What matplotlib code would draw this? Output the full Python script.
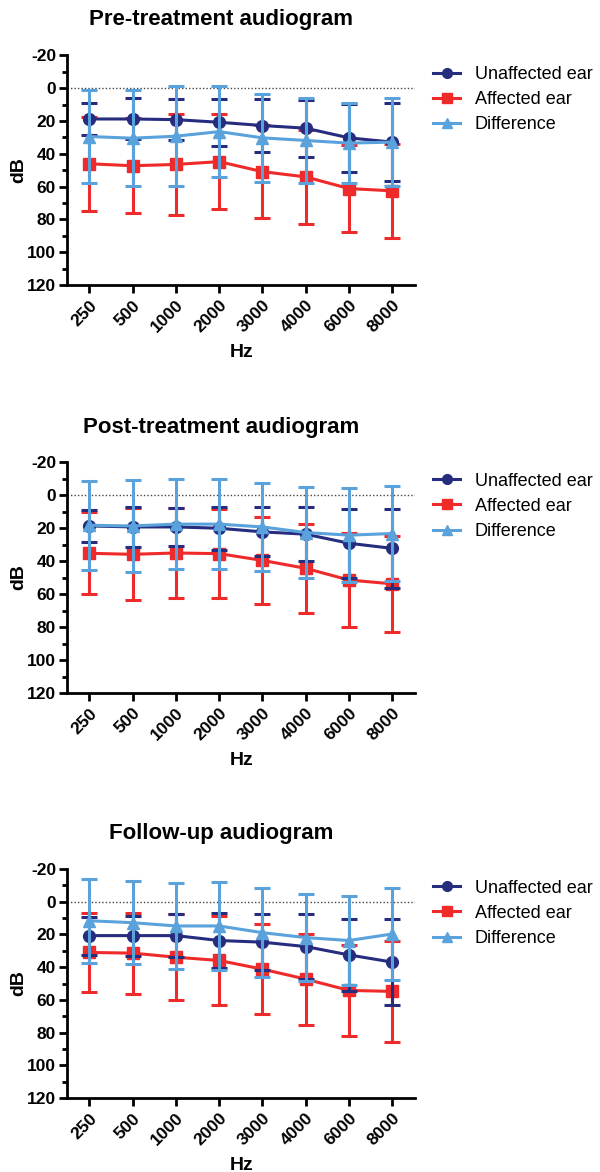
import numpy as np
import matplotlib
matplotlib.use("Agg")
import matplotlib.pyplot as plt
from matplotlib.lines import Line2D
from matplotlib.ticker import MultipleLocator

plt.rcParams["font.family"] = ["Liberation Sans", "DejaVu Sans"]
plt.rcParams["axes.unicode_minus"] = False

FREQS = ["250", "500", "1000", "2000", "3000", "4000", "6000", "8000"]
TITLES = ["Pre-treatment audiogram", "Post-treatment audiogram", "Follow-up audiogram"]
LABELS = ["Unaffected ear", "Affected ear", "Difference"]

# pre-treatment (mean, SD)
pre_unaff = [18.8, 18.8, 19.2, 20.8, 22.8, 24.4, 30.3, 32.9]
pre_unaff_sd = [10.0, 12.5, 12.5, 14.2, 16.0, 17.3, 20.7, 23.7]
pre_aff = [46.1, 47.3, 46.5, 44.8, 50.9, 54.1, 61.2, 62.6]
pre_aff_sd = [28.6, 29.1, 30.9, 28.9, 28.5, 28.7, 26.3, 28.5]
pre_diff = [29.5, 30.5, 29.3, 26.5, 30.3, 31.9, 33.5, 32.9]
pre_diff_sd = [28.5, 29.3, 30.6, 27.7, 26.7, 26.1, 24.2, 26.8]

# post-treatment
post_unaff = [18.7, 19.3, 19.3, 20.1, 22.3, 23.7, 29.2, 32.3]
post_unaff_sd = [9.5, 12.2, 11.5, 13.0, 14.8, 16.5, 21.0, 23.8]
post_aff = [35.3, 35.9, 35.1, 35.5, 39.6, 44.4, 51.5, 53.8]
post_aff_sd = [24.9, 27.8, 27.2, 26.8, 26.3, 27.0, 28.4, 29.2]
post_diff = [18.3, 18.7, 17.6, 17.6, 19.3, 22.7, 24.3, 23.3]
post_diff_sd = [27.0, 28.0, 27.3, 27.3, 26.6, 27.4, 28.4, 28.6]

# follow-up
fu_unaff = [20.7, 20.7, 20.7, 23.7, 24.7, 27.4, 32.5, 36.9]
fu_unaff_sd = [11.6, 12.2, 13.2, 16.6, 17.2, 19.7, 22.0, 26.4]
fu_aff = [31.0, 31.4, 33.9, 35.9, 41.2, 47.3, 54.2, 54.8]
fu_aff_sd = [24.4, 24.8, 26.3, 27.0, 27.4, 27.8, 28.0, 31.0]
fu_diff = [11.6, 12.8, 14.8, 14.8, 18.9, 21.9, 23.7, 19.7]
fu_diff_sd = [25.8, 25.4, 26.4, 27.0, 27.3, 26.4, 27.1, 28.0]

PANELS = [
    [(pre_unaff, pre_unaff_sd), (pre_aff, pre_aff_sd), (pre_diff, pre_diff_sd)],
    [(post_unaff, post_unaff_sd), (post_aff, post_aff_sd), (post_diff, post_diff_sd)],
    [(fu_unaff, fu_unaff_sd), (fu_aff, fu_aff_sd), (fu_diff, fu_diff_sd)],
]

COLORS = ["#262C7E", "#EE2A2A", "#5AA2DC"]
MARKERS = ["o", "s", "^"]
ZORDERS = [4, 3, 5]

# axes boxes in figure fraction: left, bottom, width, height
AX_BOXES = [
    (0.112, 0.7568, 0.58, 0.196),
    (0.112, 0.4087, 0.58, 0.197),
    (0.112, 0.0631, 0.58, 0.1954),
]
TITLE_Y = [1 - 20 / 1172, 1 - 427 / 1172, 1 - 833 / 1172]

fig = plt.figure(figsize=(6.0, 11.72), dpi=100)
x = np.arange(len(FREQS))

for i, box in enumerate(AX_BOXES):
    ax = fig.add_axes(box)
    for (mean, sd), col, mk, z in zip(PANELS[i], COLORS, MARKERS, ZORDERS):
        ax.errorbar(x, mean, yerr=sd, color=col, marker=mk, markersize=8.5,
                    linewidth=2.2, elinewidth=2.2, capsize=5.5, capthick=2.2, zorder=z)
    ax.axhline(0, color="#444444", linestyle=(0, (1, 1.5)), linewidth=1.0, zorder=1)

    ax.set_xlim(-0.51, 7.53)
    ax.set_ylim(120, -20)
    ax.yaxis.set_major_locator(MultipleLocator(20))
    ax.yaxis.set_minor_locator(MultipleLocator(10))
    ax.set_xticks(x)
    ax.set_xticklabels(FREQS, rotation=45, ha="right", rotation_mode="anchor",
                       fontsize=12.5, fontweight="bold")
    for t in ax.get_yticklabels():
        t.set_fontsize(12.5)
        t.set_fontweight("bold")
    ax.tick_params(axis="both", which="major", length=6, width=2, direction="out")
    ax.tick_params(axis="y", which="minor", length=3.5, width=2, direction="out")
    ax.tick_params(axis="x", pad=3)
    ax.tick_params(axis="y", pad=2)
    for s in ["top", "right"]:
        ax.spines[s].set_visible(False)
    for s in ["left", "bottom"]:
        ax.spines[s].set_linewidth(2)
    ax.set_xlabel("Hz", fontsize=14, fontweight="bold", labelpad=6)
    ax.set_ylabel("dB", fontsize=14, fontweight="bold", labelpad=0)

    fig.text(221 / 600, TITLE_Y[i], TITLES[i], fontsize=16, fontweight="bold",
             ha="center", va="center")

    handles = [Line2D([], [], color=c, marker=m, markersize=7, linewidth=2.2)
               for c, m in zip(COLORS, MARKERS)]
    top = box[1] + box[3]
    ax.legend(handles=handles, labels=LABELS, loc="upper left",
              bbox_to_anchor=(0.722, top - 0.009), bbox_transform=fig.transFigure,
              frameon=False, fontsize=13, handlelength=1.5, handletextpad=0.8,
              labelspacing=0.45, borderaxespad=0, borderpad=0)

fig.savefig("out.png", dpi=100)
